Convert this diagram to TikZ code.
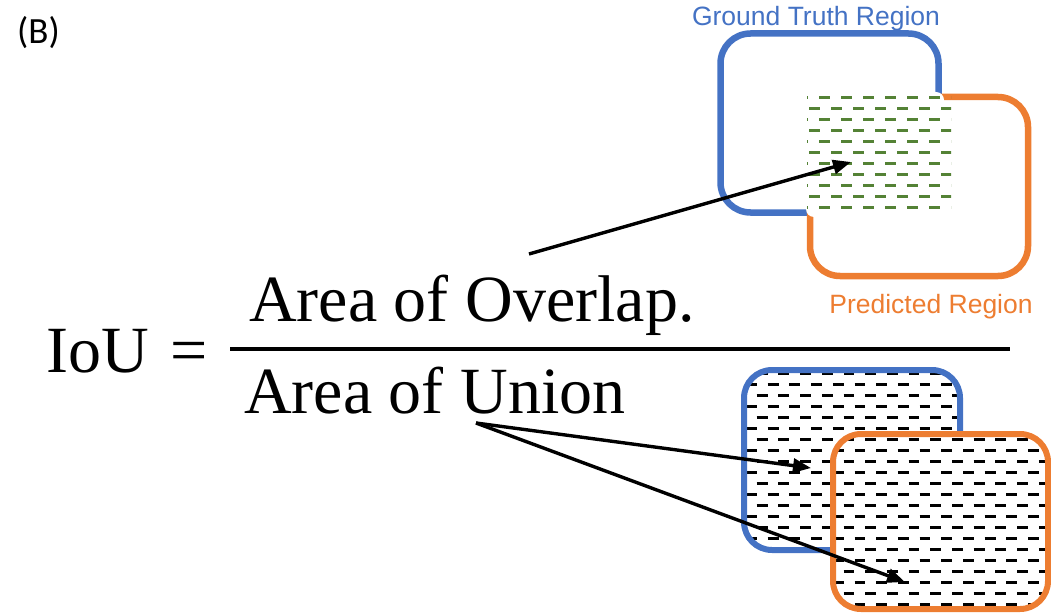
\documentclass[tikz,border=0pt]{standalone}
\usepackage{fontspec}
\setmainfont{Liberation Serif}
\newfontfamily\labelsans{Liberation Sans}
\newfontfamily\tagfont{Carlito}
\usetikzlibrary{arrows.meta}
\definecolor{gtblue}{HTML}{4472C4}
\definecolor{pdorange}{HTML}{ED7D31}
\definecolor{hatchgreen}{HTML}{548235}

\tikzset{
  regionline/.style={line width=6.5pt, rounded corners=30pt},
  greenhatch/.style={hatchgreen, line width=3pt, dash pattern=on 11pt off 11pt},
  blackhatch/.style={black, line width=2.7pt, dash pattern=on 10.8pt off 10.9pt},
  pointer/.style={line width=3.4pt, -{Triangle[length=18pt,width=14pt]}},
  formula/.style={font=\fontsize{66}{70}\selectfont, inner sep=0pt, anchor=base west},
  caption/.style={font=\labelsans\fontsize{26.5}{30}\selectfont, inner sep=0pt, anchor=base},
}

\begin{document}
\begin{tikzpicture}[x=1pt,y=-1pt]
\useasboundingbox (0,0) rectangle (1051,615);

% ---------- upper pair: overlap ----------
\draw[regionline, gtblue] (720.5,33.5) rectangle (938.5,212.5);
\draw[regionline, pdorange] (810,97) rectangle (1028,276);
\fill[white, rounded corners=8pt] (806,92) rectangle (944,217);
\begin{scope}
  \clip (807,92) rectangle (951,216);
  \foreach \k in {0,...,10} {
    \pgfmathsetmacro\yy{97.5+11*\k}
    \pgfmathsetmacro\xs{mod(\k,2)==1 ? 787 : 797}
    \draw[greenhatch] (\xs,\yy) -- (960,\yy);
  }
\end{scope}

% ---------- lower pair: union ----------
\begin{scope}
  \clip[rounded corners=28pt] (744,370) rectangle (960,550);
  \foreach \k in {0,...,16} {
    \pgfmathsetmacro\yy{373.5+11*\k}
    \pgfmathsetmacro\xs{mod(\k,2)==1 ? 746 : 735}
    \draw[blackhatch] (\xs,\yy) -- (1060,\yy);
  }
\end{scope}
\draw[line width=6pt, rounded corners=28pt, gtblue] (744,370) rectangle (960,550);
\fill[white, rounded corners=28pt] (833,434) rectangle (1048,609);
\begin{scope}
  \clip[rounded corners=28pt] (833,434) rectangle (1048,609);
  \foreach \k in {5,...,21} {
    \pgfmathsetmacro\yy{373.5+11*\k}
    \pgfmathsetmacro\xs{mod(\k,2)==1 ? 746 : 735}
    \draw[blackhatch] (\xs,\yy) -- (1060,\yy);
  }
\end{scope}
\draw[line width=6pt, rounded corners=28pt, pdorange] (833,434) rectangle (1048,609);

% ---------- labels ----------
\node[font=\tagfont\fontsize{37}{40}\selectfont, inner sep=0pt, anchor=base west] (tag) at (17,44) {(B)};
\node[caption, text=gtblue] (gt) at (816,26) {Ground Truth Region};
\node[caption, text=pdorange] (pd) at (931,313) {Predicted Region};

% ---------- formula ----------
\node[formula] (iou) at (46,372) {IoU\hspace{22pt}=};
\node[formula] (num) at (249,321) {Area of Overlap.};
\node[formula] (den) at (244,413) {Area of Union};
\coordinate (barL) at (230,349);
\coordinate (barR) at (1010,349);
\draw[line width=4pt] (barL) -- (barR);

% ---------- pointers ----------
\coordinate (ov0) at (529,254);
\coordinate (ov1) at (851,162);
\coordinate (un0) at (476,423);
\coordinate (un1) at (811,468);
\coordinate (un2) at (905,582);
\draw[pointer] (ov0) -- (ov1);
\draw[pointer] (un0) -- (un1);
\draw[pointer] (un0) -- (un2);
\end{tikzpicture}
\end{document}
